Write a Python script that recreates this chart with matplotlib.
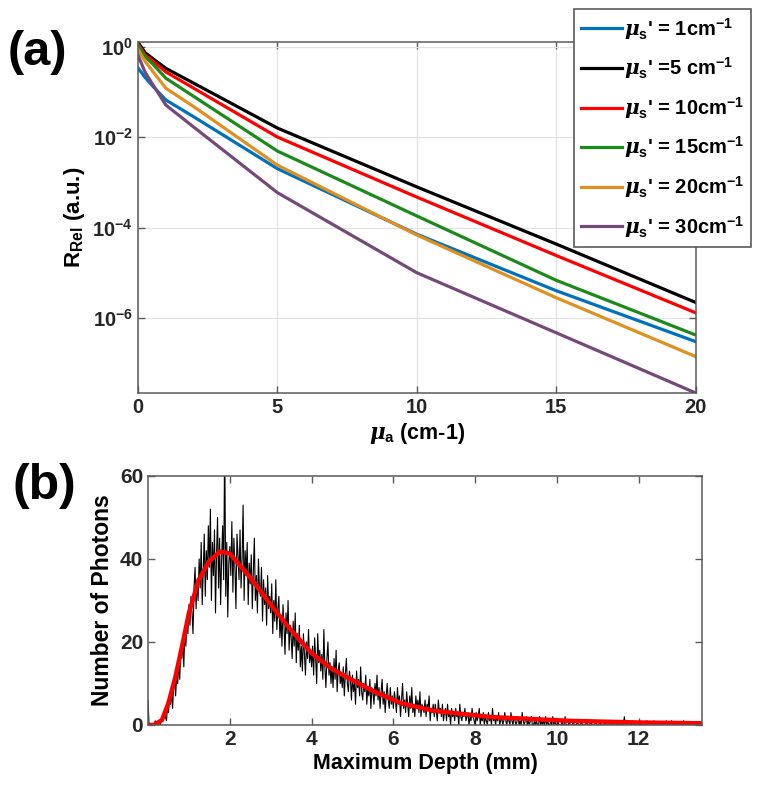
import numpy as np
import matplotlib
matplotlib.use('Agg')
import matplotlib.pyplot as plt

plt.rcParams['font.family'] = ['Liberation Sans', 'DejaVu Sans']
plt.rcParams['font.weight'] = 'bold'
plt.rcParams['mathtext.fontset'] = 'custom'
plt.rcParams['mathtext.rm'] = 'Liberation Sans:bold'
plt.rcParams['mathtext.bf'] = 'Liberation Sans:bold'
plt.rcParams['mathtext.it'] = 'DejaVu Serif:italic'

# ---- panel (a): relative reflectance vs absorption ----
mua = [0, 0.25, 0.5, 1, 2, 5, 10, 15, 20]
r_mus1 = [0.34, 0.21, 0.14, 0.066, 0.028, 2.0e-3, 7.1e-5, 4.0e-6, 3.0e-7]
r_mus5 = [1.25, 0.74, 0.56, 0.33, 0.155, 1.58e-2, 7.9e-4, 4.3e-5, 2.2e-6]
r_mus10 = [1.15, 0.66, 0.50, 0.275, 0.12, 1.0e-2, 4.7e-4, 2.4e-5, 1.3e-6]
r_mus15 = [1.07, 0.60, 0.43, 0.20, 0.079, 4.9e-3, 1.8e-4, 6.8e-6, 4.2e-7]
r_mus20 = [0.87, 0.48, 0.30, 0.12, 0.047, 2.4e-3, 6.8e-5, 2.8e-6, 1.4e-7]
r_mus30 = [0.65, 0.275, 0.155, 0.051, 0.0166, 5.9e-4, 1.0e-5, 4.7e-7, 2.2e-8]
ytick_a = [1, 1e-2, 1e-4, 1e-6]
ytick_a_labels = ['10$^{\\mathrm{0}}$', '10$^{\\mathrm{-2}}$', '10$^{\\mathrm{-4}}$', '10$^{\\mathrm{-6}}$']

series_a = [
    (r_mus1, '#0072BD', r"$\mu_\mathrm{s}$' = 1cm$^{\mathrm{-1}}$"),
    (r_mus5, 'black', r"$\mu_\mathrm{s}$' =5 cm$^{\mathrm{-1}}$"),
    (r_mus10, '#ff0000', r"$\mu_\mathrm{s}$' = 10cm$^{\mathrm{-1}}$"),
    (r_mus15, '#1b8a1b', r"$\mu_\mathrm{s}$' = 15cm$^{\mathrm{-1}}$"),
    (r_mus20, '#e0901f', r"$\mu_\mathrm{s}$' = 20cm$^{\mathrm{-1}}$"),
    (r_mus30, '#744a78', r"$\mu_\mathrm{s}$' = 30cm$^{\mathrm{-1}}$"),
]

# ---- panel (b): histogram of maximum depth, bins of 0.025 mm ----
bin_mm = 0.025
photons = [
    6, 0, 0, 0, 0, 0, 0, 1, 0, 0,
    0, 1, 0, 1, 2, 1, 3, 2, 1, 4,
    3, 6, 5, 8, 4, 9, 11, 7, 12, 10,
    15, 11, 18, 16, 21, 14, 23, 19, 25, 22,
    29, 24, 31, 27, 22, 33, 38, 28, 35, 30,
    40, 33, 44, 29, 37, 46, 31, 42, 35, 48,
    38, 52, 30, 44, 36, 47, 27, 41, 50, 33,
    45, 29, 40, 48, 35, 70, 31, 44, 26, 39,
    43, 36, 49, 32, 45, 38, 28, 46, 41, 35,
    47, 33, 40, 53, 30, 42, 36, 44, 29, 39,
    34, 41, 28, 37, 45, 30, 36, 27, 40, 33,
    31, 38, 25, 35, 29, 33, 24, 36, 28, 31,
    27, 34, 22, 30, 25, 35, 23, 28, 31, 21,
    26, 19, 29, 24, 17, 27, 22, 30, 18, 24,
    21, 16, 25, 19, 27, 15, 22, 18, 24, 14,
    19, 13, 22, 17, 12, 20, 16, 23, 15, 18,
    14, 19, 12, 21, 16, 10, 22, 15, 18, 13,
    17, 11, 23, 14, 9, 16, 20, 12, 15, 10,
    14, 9, 16, 11, 18, 8, 13, 15, 10, 12,
    9, 14, 7, 12, 16, 10, 8, 13, 11, 6,
    12, 8, 10, 5, 13, 9, 11, 7, 14, 8,
    6, 10, 8, 12, 5, 9, 7, 11, 4, 9,
    8, 5, 10, 7, 12, 6, 9, 4, 8, 11,
    5, 8, 3, 7, 10, 6, 4, 9, 5, 7,
    4, 8, 6, 3, 9, 5, 7, 2, 6, 10,
    4, 6, 3, 8, 5, 2, 7, 4, 9, 3,
    5, 2, 7, 4, 6, 3, 8, 2, 5, 4,
    3, 6, 2, 5, 4, 7, 1, 4, 3, 5,
    2, 5, 3, 1, 6, 3, 4, 2, 5, 1,
    3, 4, 1, 5, 2, 3, 0, 4, 2, 3,
    1, 4, 2, 3, 0, 5, 2, 1, 3, 2,
    4, 1, 2, 3, 0, 2, 1, 4, 2, 1,
    0, 3, 1, 2, 4, 0, 2, 1, 3, 0,
    2, 1, 0, 3, 1, 2, 0, 4, 1, 2,
    0, 2, 1, 3, 0, 1, 2, 0, 1, 3,
    1, 0, 2, 1, 0, 3, 1, 0, 2, 1,
    0, 1, 2, 0, 1, 0, 3, 1, 0, 1,
    2, 0, 1, 0, 1, 2, 0, 0, 1, 0,
    1, 0, 0, 2, 0, 1, 0, 1, 0, 2,
    0, 1, 0, 0, 1, 0, 2, 0, 1, 0,
    0, 1, 0, 0, 0, 1, 0, 0, 2, 0,
    0, 0, 1, 0, 0, 0, 1, 0, 0, 0,
    1, 0, 0, 0, 1, 0, 0, 0, 0, 1,
    0, 0, 0, 1, 0, 0, 0, 0, 1, 0,
    0, 0, 1, 0, 0, 0, 0, 1, 0, 0,
    0, 0, 0, 0, 1, 0, 0, 0, 0, 0,
    1, 0, 0, 0, 0, 0, 2, 0, 0, 0,
    0, 0, 0, 0, 1, 0, 0, 0, 0, 0,
    0, 1, 0, 0, 0, 0, 0, 0, 1, 0,
    0, 0, 0, 0, 0, 1, 0, 0, 0, 0,
    0, 0, 0, 0, 0, 0, 0, 1, 0, 0,
    0, 0, 1, 0, 0, 0, 0, 0, 0, 0,
    0, 0, 0, 0, 1, 0, 0, 0, 0, 0,
    0, 0, 0, 0, 0, 0, 0, 0, 0, 0,
    0, 0,
]
fit_depth = [0, 0.15, 0.34, 0.5, 0.67, 0.83, 1.0, 1.24, 1.5, 1.76, 2.0, 2.5,
             3.0, 3.5, 4.0, 4.5, 5.0, 5.5, 6.2, 7.0, 8.4, 10.3, 12.0, 13.6]
fit_photons = [0, 0, 1.2, 5.3, 11.6, 18.9, 27, 35, 39.5, 41.8, 41.3, 35.5,
               29, 22.8, 17.3, 13.5, 10.8, 8.2, 5.2, 3.4, 1.9, 1.0, 0.6, 0.4]

axis_gray = '#5a5a5a'

fig = plt.figure(figsize=(7.58, 7.93), dpi=100)

ax1 = fig.add_axes([0.182, 0.5044, 0.736, 0.4426])
for vals, col, lab in series_a:
    ax1.semilogy(mua, vals, color=col, lw=2.3, label=lab)
ax1.set_xlim(0, 20)
ax1.set_ylim(2.2e-8, 1.26)
ax1.set_xticks([0, 5, 10, 15, 20])
ax1.set_yticks(ytick_a)
ax1.set_yticklabels(ytick_a_labels)
ax1.yaxis.set_minor_locator(matplotlib.ticker.NullLocator())
ax1.grid(True, color='#e3e3e3', lw=0.9)
ax1.set_xlabel(r"$\mu_\mathrm{a}$ (cm-1)", fontsize=15.5, fontweight='bold', labelpad=3)
ax1.set_ylabel(r"R$_\mathrm{Rel}$ (a.u.)", fontsize=16, fontweight='bold', labelpad=4)
leg = ax1.legend(loc='upper left', bbox_to_anchor=(0.782, 1.095), fontsize=14.5,
                 handlelength=2.0, handletextpad=0.1, labelspacing=0.68,
                 borderpad=0.35, borderaxespad=0, fancybox=False, framealpha=1)
leg.get_frame().set_edgecolor(axis_gray)
leg.get_frame().set_linewidth(1.2)

ax2 = fig.add_axes([0.1953, 0.0858, 0.7309, 0.314])
depth = np.arange(len(photons)) * bin_mm
ax2.plot(depth, photons, color='black', lw=0.8)
ax2.plot(fit_depth, fit_photons, color='#ff0000', lw=3.2)
ax2.set_xlim(0, 13.55)
ax2.set_ylim(0, 60)
ax2.set_xticks([2, 4, 6, 8, 10, 12])
ax2.set_yticks([0, 20, 40, 60])
ax2.set_xlabel('Maximum Depth (mm)', fontsize=15.5, fontweight='bold', labelpad=3)
ax2.set_ylabel('Number of Photons', fontsize=16.5, fontweight='bold', labelpad=4)

for ax, lsize in ((ax1, 14.5), (ax2, 15)):
    for sp in ax.spines.values():
        sp.set_color(axis_gray)
        sp.set_linewidth(1.1)
    ax.tick_params(direction='in', top=True, right=True, length=5, width=1,
                   color=axis_gray, labelsize=lsize, labelcolor='#262626')
    for t in ax.get_xticklabels() + ax.get_yticklabels():
        t.set_fontweight('bold')

fig.text(0.010, 0.918, '(a)', fontsize=35, fontweight='bold')
fig.text(0.016, 0.371, '(b)', fontsize=36, fontweight='bold')

fig.savefig('out.png', dpi=100)
